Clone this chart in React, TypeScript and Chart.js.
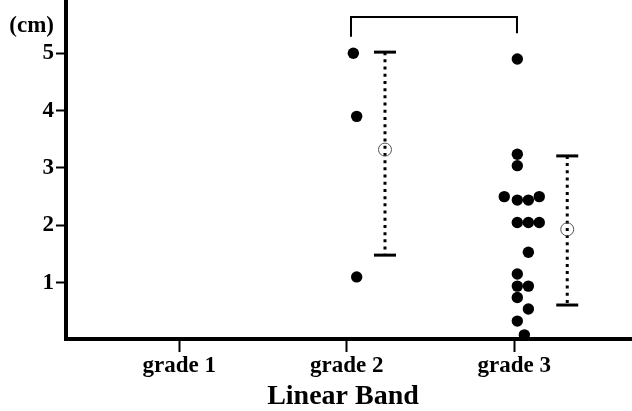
import React, { useEffect, useRef } from "react";
import { Chart, registerables } from "chart.js";

Chart.register(...registerables);

// ---- data ----
const categories = ["grade 1", "grade 2", "grade 3"];
const categoryPositions = [1, 2, 3];
const yTickValues = [1, 2, 3, 4, 5];
const xTitle = "Linear Band";
const yUnit = "(cm)";

const grade2X = [2.039, 2.059, 2.059];
const grade2Y = [5.0, 3.9, 1.1];

const grade3X = [3.018, 3.018, 3.018, 2.94, 3.018, 3.084, 3.149, 3.018, 3.084, 3.149, 3.084, 3.018, 3.018, 3.084, 3.018, 3.084, 3.018, 3.06];
const grade3Y = [4.9, 3.24, 3.04, 2.5, 2.44, 2.44, 2.5, 2.05, 2.05, 2.05, 1.53, 1.15, 0.94, 0.94, 0.74, 0.54, 0.33, 0.09];

const summaryX = [2.228, 3.316];
const summaryMean = [3.32, 1.93];
const summaryLow = [1.48, 0.61];
const summaryHigh = [5.02, 3.21];

const bracketX = [2.025, 2.025, 3.016, 3.016];
const bracketY = [5.29, 5.632, 5.632, 5.35];

const X_MIN = 0.3236;
const X_MAX = 3.631;
const Y_MIN = 0;
const Y_MAX = 5.929;

const FONT = "'Liberation Serif', 'Times New Roman', serif";

const axesPlugin = {
  id: "axesPlugin",
  afterDatasetsDraw(chart: any) {
    const { ctx, chartArea } = chart;
    ctx.save();
    ctx.strokeStyle = "#000";
    ctx.lineCap = "butt";
    // y axis (runs up to the top edge)
    ctx.lineWidth = 4;
    ctx.beginPath();
    ctx.moveTo(chartArea.left, 0);
    ctx.lineTo(chartArea.left, chartArea.bottom + 1);
    ctx.stroke();
    // x axis (extends to canvas edge)
    ctx.lineWidth = 4;
    ctx.beginPath();
    ctx.moveTo(chartArea.left - 2, chartArea.bottom - 1);
    ctx.lineTo(chart.width, chartArea.bottom - 1);
    ctx.stroke();
    // unit label
    ctx.fillStyle = "#000";
    ctx.font = `bold 23px ${FONT}`;
    ctx.textAlign = "right";
    ctx.textBaseline = "middle";
    ctx.fillText(yUnit, chartArea.left - 12, 26);
    ctx.restore();
  },
};

export default function App() {
  const canvasRef = useRef<HTMLCanvasElement | null>(null);

  useEffect(() => {
    document.body.style.margin = "0";
    const canvas = canvasRef.current;
    if (!canvas) return;

    const errorLines = summaryX.map((x, i) => ({
      type: "scatter" as const,
      data: [
        { x, y: summaryHigh[i] },
        { x, y: summaryLow[i] },
      ],
      showLine: true,
      borderColor: "#000",
      borderWidth: 3,
      borderDash: [3, 4.2],
      borderCapStyle: "butt",
      pointRadius: 0,
      order: 5,
    }));

    const chart = new Chart(canvas, {
      type: "scatter",
      data: {
        datasets: [
          {
            data: grade2X.map((x, i) => ({ x, y: grade2Y[i] })),
            backgroundColor: "#000",
            borderColor: "#000",
            pointRadius: 5.7,
            pointBorderWidth: 0,
            order: 1,
          },
          {
            data: grade3X.map((x, i) => ({ x, y: grade3Y[i] })),
            backgroundColor: "#000",
            borderColor: "#000",
            pointRadius: 5.7,
            pointBorderWidth: 0,
            order: 1,
          },
          {
            data: summaryX.map((x, i) => ({ x, y: summaryMean[i] })),
            backgroundColor: "rgba(0,0,0,0)",
            borderColor: "#555",
            pointRadius: 6.5,
            pointBorderWidth: 1,
            order: 2,
          },
          {
            data: [
              ...summaryX.map((x, i) => ({ x, y: summaryHigh[i] })),
              ...summaryX.map((x, i) => ({ x, y: summaryLow[i] })),
            ],
            pointStyle: "line",
            pointRadius: 11,
            borderColor: "#000",
            backgroundColor: "#000",
            pointBorderWidth: 3,
            order: 3,
          },
          ...errorLines,
          {
            data: bracketX.map((x, i) => ({ x, y: bracketY[i] })),
            showLine: true,
            borderColor: "#000",
            borderWidth: 2,
            pointRadius: 0,
            order: 4,
          },
        ] as any,
      },
      options: {
        responsive: false,
        animation: false,
        devicePixelRatio: 1,
        layout: { autoPadding: false, padding: { top: 0, right: 12, bottom: 0, left: 0 } },
        plugins: {
          legend: { display: false },
          tooltip: { enabled: false },
        },
        scales: {
          x: {
            type: "linear",
            min: X_MIN,
            max: X_MAX,
            border: { display: false },
            grid: {
              display: true,
              drawOnChartArea: false,
              drawTicks: true,
              tickLength: 12,
              tickWidth: 2,
              tickColor: "#000",
            },
            afterBuildTicks: (scale: any) => {
              scale.ticks = categoryPositions.map((v) => ({ value: v }));
            },
            afterFit: (scale: any) => {
              scale.height = 71;
              scale.paddingLeft = 0;
              scale.paddingRight = 0;
            },
            ticks: {
              autoSkip: false,
              maxRotation: 0,
              padding: 0,
              color: "#000",
              font: { family: FONT, size: 23, weight: "bold" },
              callback: (value: any) => {
                const idx = categoryPositions.indexOf(Number(value));
                return idx >= 0 ? categories[idx] : "";
              },
            },
            title: {
              display: true,
              text: xTitle,
              color: "#000",
              font: { family: FONT, size: 28, weight: "bold", lineHeight: 1 },
              padding: { top: 0, bottom: 0 },
            },
          },
          y: {
            type: "linear",
            min: Y_MIN,
            max: Y_MAX,
            border: { display: false },
            grid: {
              display: true,
              drawOnChartArea: false,
              drawTicks: true,
              tickLength: 10,
              tickWidth: 2,
              tickColor: "#000",
            },
            afterBuildTicks: (scale: any) => {
              scale.ticks = yTickValues.map((v) => ({ value: v }));
            },
            afterFit: (scale: any) => {
              scale.width = 66;
              scale.paddingTop = 0;
              scale.paddingBottom = 0;
            },
            ticks: {
              padding: 2,
              color: "#000",
              font: { family: FONT, size: 23, weight: "bold" },
              callback: (value: any) => String(value),
            },
          },
        },
      } as any,
      plugins: [axesPlugin],
    });

    return () => {
      chart.destroy();
    };
  }, []);

  return (
    <div style={{ position: "absolute", left: 0, top: 0, width: 632, height: 411, background: "#fff" }}>
      <canvas ref={canvasRef} width={632} height={411} style={{ display: "block" }} />
    </div>
  );
}
